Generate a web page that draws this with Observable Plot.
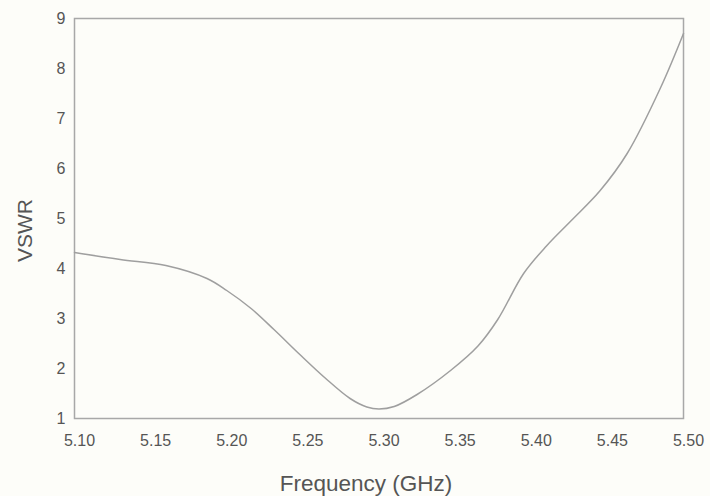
<!DOCTYPE html>
<html>
<head>
<meta charset="utf-8">
<script src="https://cdn.jsdelivr.net/npm/d3@7"></script>
<script src="https://cdn.jsdelivr.net/npm/@observablehq/plot@0.6"></script>
<style>
  html, body { margin: 0; padding: 0; background: #fdfdf9; }
  #chart svg { display: block; }
</style>
</head>
<body>
<div id="chart"></div>
<script>
const freq = [5.100, 5.130, 5.160, 5.187, 5.200, 5.216, 5.231, 5.248, 5.265, 5.281, 5.292, 5.300, 5.310, 5.325, 5.347, 5.365, 5.378, 5.395, 5.410, 5.426, 5.445, 5.463, 5.485, 5.500];
const vswr = [4.32, 4.18, 4.06, 3.80, 3.56, 3.20, 2.78, 2.28, 1.80, 1.40, 1.23, 1.19, 1.24, 1.48, 1.96, 2.45, 2.98, 3.90, 4.45, 4.95, 5.55, 6.30, 7.62, 8.70];
const xTicks = [5.10, 5.15, 5.20, 5.25, 5.30, 5.35, 5.40, 5.45, 5.50];
const yTicks = [1, 2, 3, 4, 5, 6, 7, 8, 9];

const data = freq.map((f, i) => ({f, v: vswr[i]}));

const chart = Plot.plot({
  width: 710,
  height: 496,
  marginLeft: 74,
  marginRight: 27,
  marginTop: 18,
  marginBottom: 78,
  style: {background: "#fdfdf9", fontFamily: "Liberation Sans, Arial, sans-serif", color: "#555"},
  x: {domain: [5.10, 5.50]},
  y: {domain: [1, 9]},
  marks: [
    Plot.frame({stroke: "#a8a8a8", strokeWidth: 1.5}),
    Plot.axisX(xTicks, {tickSize: 0, tickPadding: 16, tickFormat: d => d.toFixed(2), fontSize: 16, fill: "#555", dx: 5, label: null}),
    Plot.axisY(yTicks, {tickSize: 0, tickPadding: 9, tickFormat: d => String(d), fontSize: 16, fill: "#555", label: null}),
    Plot.text(["Frequency (GHz)"], {frameAnchor: "bottom", dy: 72, dx: -13, fontSize: 22.5, fill: "#555"}),
    Plot.text(["VSWR"], {frameAnchor: "left", textAnchor: "middle", dx: -49, dy: 12, rotate: -90, fontSize: 21, fill: "#555"}),
    Plot.line(data, {x: "f", y: "v", curve: "catmull-rom", stroke: "#9f9f9f", strokeWidth: 1.5})
  ]
});
document.getElementById("chart").appendChild(chart);
</script>
</body>
</html>
